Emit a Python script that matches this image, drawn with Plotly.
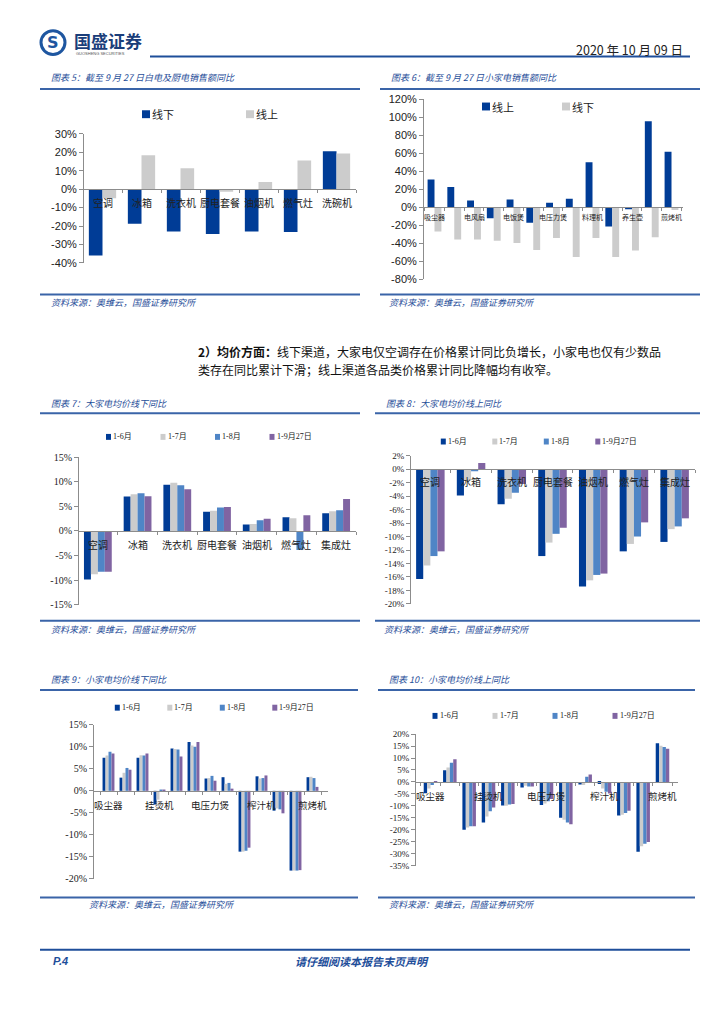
import plotly.graph_objects as go

W, H = 724, 1024

# ---------------- data ----------------
c5_cats = ["空调", "冰箱", "洗衣机", "厨电套餐", "油烟机", "燃气灶", "洗碗机"]
c5_offline = [-36.0, -18.7, -22.9, -24.3, -22.9, -23.2, 20.5]
c5_online = [-5.0, 18.4, 11.3, -1.4, 3.9, 15.5, 19.3]

small_cats = ["吸尘器", "扫地机", "电风扇", "挂烫机", "电饭煲", "电磁炉", "电压力煲",
              "豆浆机", "料理机", "榨汁机", "养生壶", "电水壶", "煎烤机"]
c6_labels = ["吸尘器", "", "电风扇", "", "电饭煲", "", "电压力煲", "", "料理机", "", "养生壶", "", "煎烤机"]
c6_online = [31.0, 22.7, 7.7, -12.0, 8.8, -17.2, 5.1, 9.5, 50.1, -21.2, -1.8, 95.4, 61.8]
c6_offline = [-26.7, -35.8, -35.8, -37.0, -39.5, -47.2, -34.0, -55.2, -34.0, -55.2, -47.9, -33.3, -3.0]

big_cats = ["空调", "冰箱", "洗衣机", "厨电套餐", "油烟机", "燃气灶", "集成灶"]
periods = ["1-6月", "1-7月", "1-8月", "1-9月27日"]

c7_m6 = [-9.9, 7.0, 9.4, 3.9, 1.3, 2.8, 3.6]
c7_m7 = [-8.8, 7.5, 9.8, 4.1, 1.4, 2.6, 4.0]
c7_m8 = [-8.3, 7.7, 9.3, 4.8, 2.2, -3.9, 4.2]
c7_m9 = [-8.3, 7.1, 8.5, 4.9, 2.5, 3.2, 6.5]

c8_m6 = [-16.3, -3.9, -5.2, -12.9, -17.4, -12.2, -10.8]
c8_m7 = [-14.3, -1.7, -4.4, -10.9, -16.5, -11.1, -8.9]
c8_m8 = [-12.9, -0.3, -3.5, -9.6, -15.7, -10.0, -8.5]
c8_m9 = [-12.2, 0.9, -2.2, -8.7, -15.5, -7.9, -7.3]

small_labels_3 = ["吸尘器", "", "", "挂烫机", "", "", "电压力煲", "", "", "榨汁机", "", "", "煎烤机"]

c9_m6 = [7.5, 3.0, 7.5, -3.1, 9.6, 11.1, 2.8, 3.1, -13.8, 3.3, -4.5, -18.1, 3.1]
c9_m7 = [8.0, 4.1, 8.1, -2.0, 9.5, 10.3, 2.9, 1.6, -13.8, 2.8, -4.0, -18.1, 3.2]
c9_m8 = [8.9, 5.2, 8.0, 0.3, 9.4, 10.0, 3.4, 1.8, -13.6, 2.9, -4.2, -18.1, 2.9]
c9_m9 = [8.5, 4.8, 8.5, 0.3, 7.8, 11.1, 2.3, 0.5, -12.9, 3.5, -5.1, -18.0, 0.9]

c10_m6 = [-4.7, 4.9, -19.9, -16.9, -9.8, -2.3, -9.6, -14.9, -1.1, -0.8, -14.0, -29.1, 16.2]
c10_m7 = [-2.7, 6.0, -19.0, -14.4, -9.9, -1.6, -9.0, -15.8, -1.3, -2.7, -13.7, -26.8, 15.1]
c10_m8 = [-1.3, 8.0, -18.5, -12.2, -9.4, -1.9, -8.0, -16.9, 2.2, -4.1, -13.0, -25.8, 14.6]
c10_m9 = [-0.3, 9.5, -18.5, -10.7, -9.2, -1.9, -7.1, -17.7, 3.1, -4.8, -12.0, -25.1, 13.9]

# ---------------- styles ----------------
DARK = "#003C96"
LGRAY = "#CCCCCC"
MID = "#4F85C6"
PURP = "#8064A2"
BLUE_TXT = "#1F4E99"
LINE_BLUE = "#3A64A8"
AXIS_GRAY = "#8C8C8C"
CJK = "Noto Sans CJK SC"
SANS = "Liberation Sans, Arial, " + CJK
SERIF = "Liberation Serif, " + CJK


def fx(x):
    return x / W


def fy(y):
    return 1 - y / H


fig = go.Figure()
layout = dict(
    width=W, height=H, autosize=False,
    margin=dict(l=0, r=0, t=0, b=0, pad=0),
    paper_bgcolor="white", plot_bgcolor="white",
    barmode="group", bargap=0.3, bargroupgap=0.0,
    showlegend=False, hovermode=False,
)
annotations = []
shapes = []


def text(x, y, s, size=10, color=BLUE_TXT, family=CJK, xanchor="left", italic=False, bold=False):
    if bold:
        s = f"<b>{s}</b>"
    if italic:
        s = f"<i>{s}</i>"
    annotations.append(dict(x=fx(x), y=fy(y), xref="paper", yref="paper", text=s,
                            showarrow=False, xanchor=xanchor, yanchor="middle",
                            borderpad=0,
                            font=dict(family=family, size=size, color=color,
                                      style="italic" if italic else "normal")))


def add_chart(idx, cats, labels, series, xdom, ydom, yrange, dtick, tickfont, catfont,
              lab_shift, leg, legfont):
    xa = "x" if idx == 1 else f"x{idx}"
    ya = "y" if idx == 1 else f"y{idx}"
    for name, vals, col in series:
        fig.add_trace(go.Bar(x=cats, y=vals, name=name, marker=dict(color=col, line=dict(width=0)),
                             xaxis=xa, yaxis=ya, showlegend=False))
    ymin, ymax = yrange
    d0, d1 = fy(ydom[1]), fy(ydom[0])
    zero = d0 + (0 - ymin) / (ymax - ymin) * (d1 - d0)
    tv = list(range(int(ymin), int(ymax) + 1, dtick))
    tt = [f"{v}%" for v in tv]
    layout["xaxis" if idx == 1 else f"xaxis{idx}"] = dict(
        domain=[fx(xdom[0]), fx(xdom[1])], anchor="free", position=zero,
        type="category", categoryorder="array", categoryarray=cats,
        showticklabels=False, layer="above traces",
        showline=True, linecolor=AXIS_GRAY, linewidth=1, ticks="outside", ticklen=3,
        tickcolor=AXIS_GRAY, tickson="boundaries", showgrid=False, zeroline=False,
        fixedrange=True,
    )
    layout["yaxis" if idx == 1 else f"yaxis{idx}"] = dict(
        domain=[d0, d1], anchor="free", position=fx(xdom[0]), range=[ymin, ymax],
        tickmode="array", tickvals=tv, ticktext=tt, showline=True, linecolor=AXIS_GRAY,
        linewidth=1, ticks="outside", ticklen=4, tickcolor=AXIS_GRAY, showgrid=False,
        zeroline=False, tickfont=tickfont, fixedrange=True,
    )
    # category labels drawn on top of the bars, hanging just below the zero line
    for c, lab in zip(cats, labels):
        if lab:
            annotations.append(dict(x=c, y=0, xref=xa, yref=ya, text=lab, showarrow=False,
                                    xanchor="center", yanchor="top", yshift=lab_shift,
                                    borderpad=0, font=catfont))
    # legend: swatch + label per series
    lx, ly, lspace, sw, sh = leg
    for i, (name, vals, col) in enumerate(series):
        cx = lx + i * lspace
        shapes.append(dict(type="rect", xref="paper", yref="paper",
                           x0=fx(cx - sw / 2), x1=fx(cx + sw / 2),
                           y0=fy(ly + sh / 2), y1=fy(ly - sh / 2),
                           fillcolor=col, line=dict(width=0)))
        text(cx + sw / 2 + 1, ly, name, size=legfont["size"], color=legfont["color"],
             family=legfont["family"])


# Chart 5
add_chart(1, c5_cats, c5_cats,
          [("线下", c5_offline, DARK), ("线上", c5_online, LGRAY)],
          (83, 356), (129.3, 260), (-40, 30), 10,
          dict(family=SANS, size=11, color="#222"), dict(family=CJK, size=10, color="#222"), -5,
          (146, 109.5, 104, 8, 8), dict(family=CJK, size=11, color="#222"))
# Chart 6
add_chart(2, small_cats, c6_labels,
          [("线上", c6_online, DARK), ("线下", c6_offline, LGRAY)],
          (423, 683), (94.3, 276.7), (-80, 120), 20,
          dict(family=SANS, size=11, color="#222"), dict(family=CJK, size=7, color="#222"), -4,
          (486, 101.7, 80, 8, 8), dict(family=CJK, size=11, color="#222"))
# Chart 7
add_chart(3, big_cats, big_cats,
          [(periods[0], c7_m6, DARK), (periods[1], c7_m7, LGRAY),
           (periods[2], c7_m8, MID), (periods[3], c7_m9, PURP)],
          (78, 356), (456.7, 605.7), (-15, 15), 5,
          dict(family=SERIF, size=10, color="#222"), dict(family=CJK, size=10, color="#222"), -5,
          (108.5, 436, 54.5, 5, 6), dict(family=SERIF, size=8, color="#222"))
# Chart 8
add_chart(4, big_cats, big_cats,
          [(periods[0], c8_m6, DARK), (periods[1], c8_m7, LGRAY),
           (periods[2], c8_m8, MID), (periods[3], c8_m9, PURP)],
          (410, 695), (455, 605), (-20, 2), 2,
          dict(family=SERIF, size=9, color="#222"), dict(family=CJK, size=10, color="#222"), -4,
          (443.3, 440.7, 51.5, 5, 6), dict(family=SERIF, size=8, color="#222"))
# Chart 9
add_chart(5, small_cats, small_labels_3,
          [(periods[0], c9_m6, DARK), (periods[1], c9_m7, LGRAY),
           (periods[2], c9_m8, MID), (periods[3], c9_m9, PURP)],
          (93, 328), (727.3, 883.3), (-20, 15), 5,
          dict(family=SERIF, size=10, color="#222"), dict(family=CJK, size=9.5, color="#222"), -6,
          (117.3, 710, 52.5, 5, 6), dict(family=SERIF, size=8, color="#222"))
# Chart 10
add_chart(6, small_cats, small_labels_3,
          [(periods[0], c10_m6, DARK), (periods[1], c10_m7, LGRAY),
           (periods[2], c10_m8, MID), (periods[3], c10_m9, PURP)],
          (415, 678), (736.7, 870), (-35, 20), 5,
          dict(family=SERIF, size=9, color="#222"), dict(family=CJK, size=9.5, color="#222"), -6,
          (435, 718.3, 60, 5, 6), dict(family=SERIF, size=8, color="#222"))


def hline(x0, x1, y, color=LINE_BLUE, width=2):
    shapes.append(dict(type="line", xref="paper", yref="paper", x0=fx(x0), x1=fx(x1),
                       y0=fy(y), y1=fy(y), line=dict(color=color, width=width)))


titles = [
    (50, 72, "图表 5：截至 9 月 27 日白电及厨电销售额同比"),
    (390, 72, "图表 6：截至 9 月 27 日小家电销售额同比"),
    (50, 402, "图表 7：大家电均价线下同比"),
    (385, 402, "图表 8：大家电均价线上同比"),
    (50, 681, "图表 9：小家电均价线下同比"),
    (388, 681, "图表 10：小家电均价线上同比"),
]
for x, y, s in titles:
    text(x, y, s, size=9, italic=True)

for x0, x1, y in [(40, 360, 84), (380, 700, 84), (40, 360, 412), (375, 700, 412),
                  (40, 358, 692), (378, 695, 692)]:
    hline(x0, x1, y, width=2)
for x0, x1, y in [(40, 360, 292), (380, 700, 292), (40, 360, 622), (375, 700, 622),
                  (40, 358, 902), (378, 695, 902)]:
    hline(x0, x1, y, width=2)

src = "资料来源：奥维云，国盛证券研究所"
for x, y in [(50, 300), (388, 300), (50, 631), (383, 631), (88, 909), (388, 909)]:
    text(x, y, src, size=9, italic=True)

# paragraph
text(197, 350, "<b>2）均价方面：</b>线下渠道，大家电仅空调存在价格累计同比负增长，小家电也仅有少数品",
     size=12, color="#111")
text(197, 368, "类存在同比累计下滑；线上渠道各品类价格累计同比降幅均有收窄。", size=12, color="#111")

# header
shapes.append(dict(type="circle", xref="paper", yref="paper", x0=fx(41), x1=fx(65),
                   y0=fy(49), y1=fy(25), line=dict(color="#1E56A0", width=3), fillcolor="white"))
text(53, 37, "<b>S</b>", size=16, color="#1E56A0", family="DejaVu Sans", xanchor="center")
text(73, 35, "国盛证券", size=17, color="#1A3E7A", bold=True)
text(75, 48, "GUOSHENG SECURITIES", size=4, color="#555", family="Liberation Sans")
text(684, 44, "2020 年 10 月 09 日", size=12.5, color="#222", xanchor="right")
hline(150, 690, 51, color="#1E4E9A", width=2)

# footer
hline(40, 690, 955, color="#1E4E9A", width=2)
text(52, 966, "P.4", size=11, color="#1E4E9A", family="Liberation Sans", bold=True, italic=True)
text(362, 966, "请仔细阅读本报告末页声明", size=11, color="#1E4E9A", xanchor="center", bold=True, italic=True)

layout["annotations"] = annotations
layout["shapes"] = shapes
fig.update_layout(**layout)
fig.write_html("out.html", config={"displayModeBar": False},
               post_script="document.body.style.margin='0';document.body.style.overflow='hidden';")
